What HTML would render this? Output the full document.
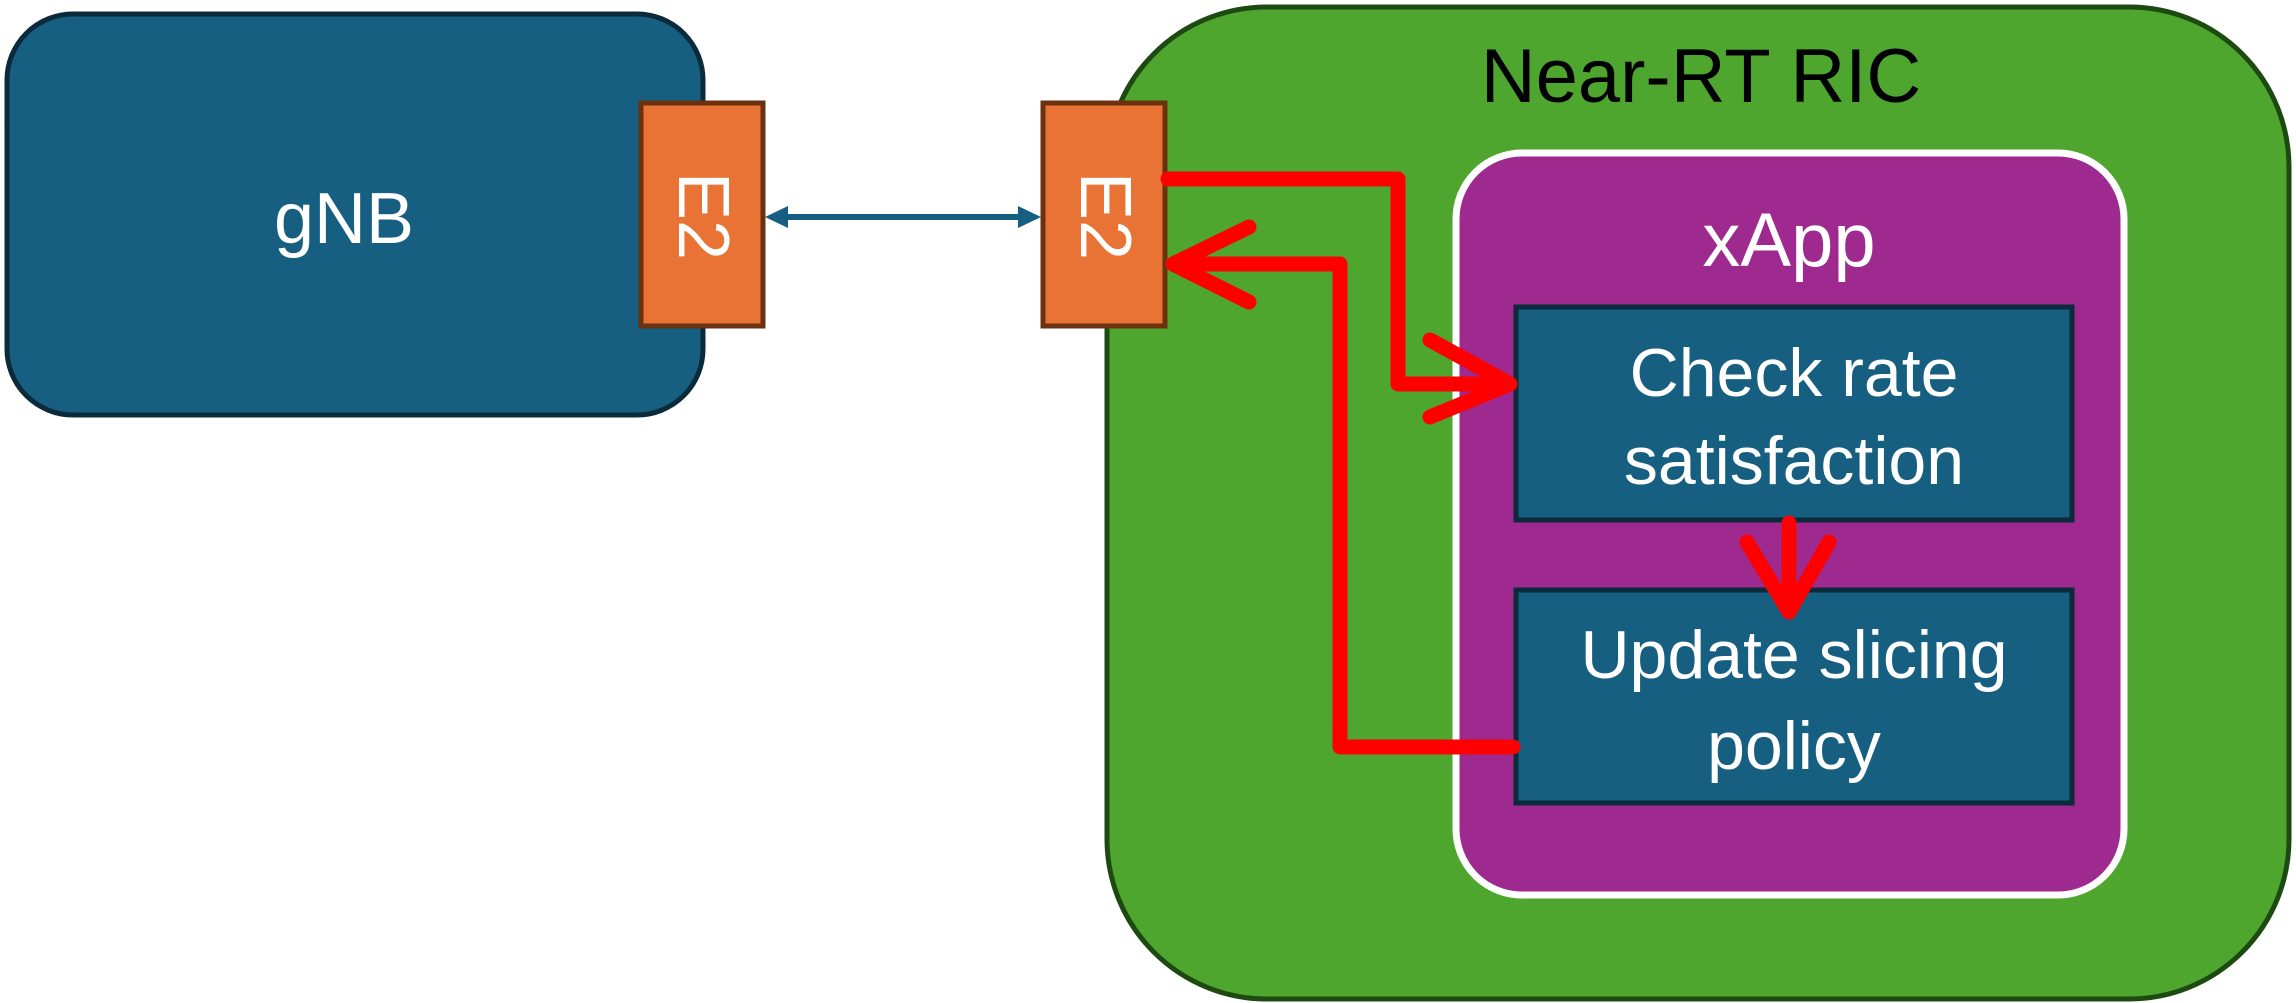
<!DOCTYPE html>
<html><head><meta charset="utf-8"><style>
html,body{margin:0;padding:0;background:#fff;}
svg{display:block;}
text{font-family:"Liberation Sans",sans-serif;}
</style></head><body>
<svg width="2296" height="1003" viewBox="0 0 2296 1003" xmlns="http://www.w3.org/2000/svg">
<rect x="7" y="14" width="696" height="401" rx="66" fill="#175f80" stroke="#0b2a3a" stroke-width="5"/>
<text x="344" y="243" font-size="72" fill="#fff" text-anchor="middle">gNB</text>
<rect x="1107" y="7" width="1182" height="992" rx="160" fill="#4ea62f" stroke="#1d4a10" stroke-width="5"/>
<text x="1701" y="102" font-size="76" fill="#000" text-anchor="middle">Near-RT RIC</text>
<rect x="1456" y="153" width="668" height="742" rx="66" fill="#9e2a8f" stroke="#fff" stroke-width="7"/>
<text x="1789" y="266" font-size="76" fill="#fff" text-anchor="middle">xApp</text>
<rect x="1516" y="307" width="556" height="213" fill="#175f80" stroke="#0b2a3a" stroke-width="5"/>
<text x="1794" y="396" font-size="68" fill="#fff" text-anchor="middle">Check rate</text>
<text x="1794" y="484" font-size="68" fill="#fff" text-anchor="middle">satisfaction</text>
<rect x="1516" y="590" width="556" height="213" fill="#175f80" stroke="#0b2a3a" stroke-width="5"/>
<text x="1794" y="678" font-size="68" fill="#fff" text-anchor="middle">Update slicing</text>
<text x="1794" y="769" font-size="68" fill="#fff" text-anchor="middle">policy</text>
<rect x="641" y="103" width="122" height="223" fill="#e97334" stroke="#6b3210" stroke-width="5"/>
<rect x="1043" y="103" width="122" height="223" fill="#e97334" stroke="#6b3210" stroke-width="5"/>
<text transform="translate(679,216) rotate(90)" font-size="72" fill="#fff" text-anchor="middle">E2</text>
<text transform="translate(1081,216) rotate(90)" font-size="72" fill="#fff" text-anchor="middle">E2</text>
<line x1="780" y1="217" x2="1026" y2="217" stroke="#175f80" stroke-width="6"/>
<polygon points="765,217 788,206 788,228" fill="#175f80"/>
<polygon points="1041,217 1018,206 1018,228" fill="#175f80"/>
<g fill="none" stroke="#ff0000" stroke-width="15" stroke-linejoin="round" stroke-linecap="round">
<polyline points="1168,179 1398,179 1398,384 1505,384"/>
<polyline points="1430,340 1510,384 1430,417"/>
<polyline points="1513,747 1340,747 1340,264 1175,264"/>
<polyline points="1249,227 1173,264 1249,302"/>
<line x1="1789" y1="523" x2="1789" y2="605"/>
<polyline points="1747,542 1789,612 1829,542"/>
</g>
</svg>
</body></html>
